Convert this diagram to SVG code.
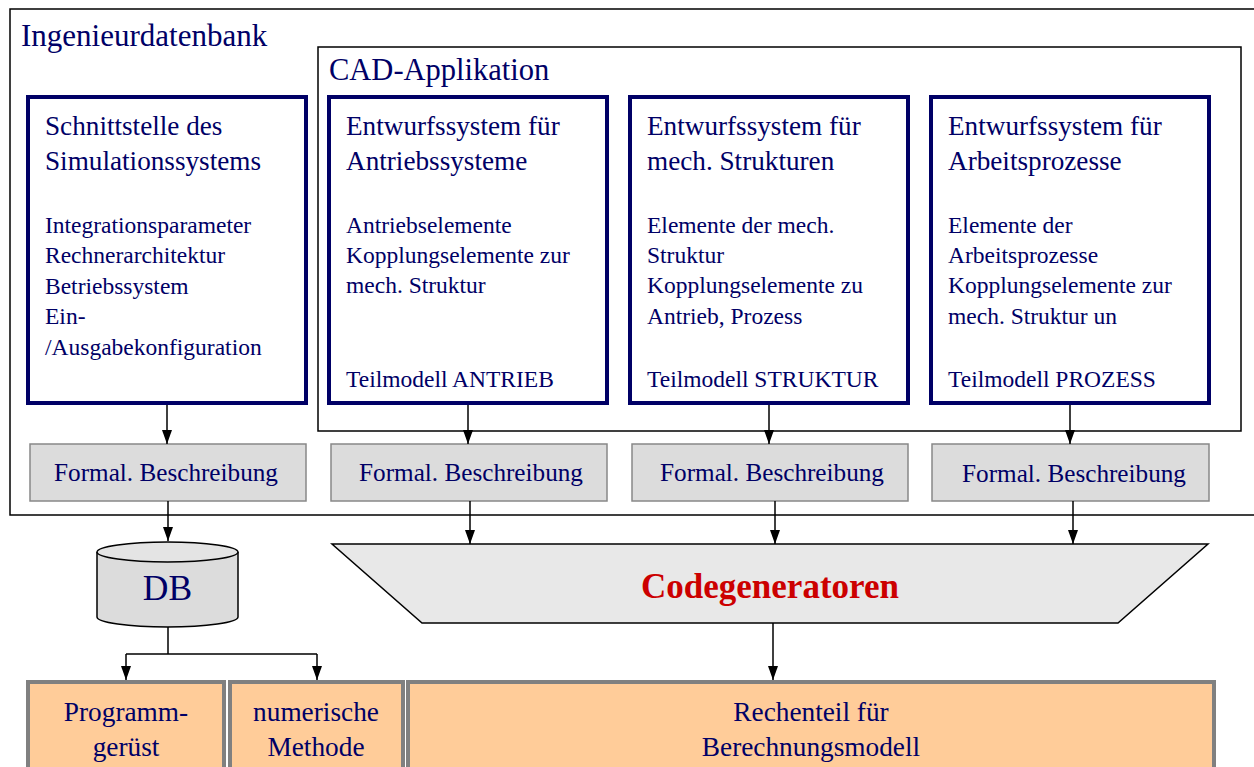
<svg xmlns="http://www.w3.org/2000/svg" width="1254" height="767" viewBox="0 0 1254 767">
  <defs>
    <marker id="arrow" markerWidth="14" markerHeight="10" refX="14" refY="5" orient="auto" markerUnits="userSpaceOnUse" viewBox="0 0 14 10">
      <path d="M0,0 L14,5 L0,10 Z" fill="#000"/>
    </marker>
    <style>
      text { font-family: "Liberation Serif", "Times New Roman", serif; fill: #000066; }
      .frame { fill: none; stroke: #000; stroke-width: 1.5; }
      .sys { fill: #fff; stroke: #000066; stroke-width: 4; }
      .formal { fill: #dcdcdc; stroke: #888; stroke-width: 1.5; }
      .out { fill: #ffcc99; stroke: #808080; stroke-width: 4; }
      .title { font-size: 27.2px; }
      .body { font-size: 23.5px; }
      .flabel { font-size: 25.2px; text-anchor: middle; }
      .olabel { font-size: 27.3px; text-anchor: middle; }
      .conn { fill: none; stroke: #000; stroke-width: 1.5; }
      .arr { marker-end: url(#arrow); }
    </style>
  </defs>

  <rect width="1254" height="767" fill="#fff"/>

  <!-- Ingenieurdatenbank frame -->
  <g id="ingenieurdatenbank">
    <rect class="frame" x="10" y="9" width="1246" height="506"/>
    <text x="21" y="46" font-size="31">Ingenieurdatenbank</text>
  </g>

  <!-- CAD-Applikation frame -->
  <g id="cad-applikation">
    <rect class="frame" x="318" y="47" width="923" height="384"/>
    <text x="329" y="80" font-size="30.5">CAD-Applikation</text>
  </g>

  <!-- Subsystem boxes -->
  <g id="schnittstelle">
    <rect class="sys" x="28" y="97" width="278" height="306"/>
    <text class="title" x="45" y="135">Schnittstelle des</text>
    <text class="title" x="45" y="170">Simulationssystems</text>
    <text class="body" x="45" y="233">Integrationsparameter</text>
    <text class="body" x="45" y="263">Rechnerarchitektur</text>
    <text class="body" x="45" y="294">Betriebssystem</text>
    <text class="body" x="45" y="324">Ein-</text>
    <text class="body" x="45" y="355">/Ausgabekonfiguration</text>
  </g>

  <g id="antrieb">
    <rect class="sys" x="329" y="97" width="278" height="306"/>
    <text class="title" x="346" y="135">Entwurfssystem für</text>
    <text class="title" x="346" y="170">Antriebssysteme</text>
    <text class="body" x="346" y="233">Antriebselemente</text>
    <text class="body" x="346" y="263">Kopplungselemente zur</text>
    <text class="body" x="346" y="293">mech. Struktur</text>
    <text class="body" x="346" y="387">Teilmodell ANTRIEB</text>
  </g>

  <g id="struktur">
    <rect class="sys" x="630" y="97" width="278" height="306"/>
    <text class="title" x="647" y="135">Entwurfssystem für</text>
    <text class="title" x="647" y="170">mech. Strukturen</text>
    <text class="body" x="647" y="233">Elemente der mech.</text>
    <text class="body" x="647" y="263">Struktur</text>
    <text class="body" x="647" y="293">Kopplungselemente zu</text>
    <text class="body" x="647" y="324">Antrieb, Prozess</text>
    <text class="body" x="647" y="387">Teilmodell STRUKTUR</text>
  </g>

  <g id="prozess">
    <rect class="sys" x="931" y="97" width="278" height="306"/>
    <text class="title" x="948" y="135">Entwurfssystem für</text>
    <text class="title" x="948" y="170">Arbeitsprozesse</text>
    <text class="body" x="948" y="233">Elemente der</text>
    <text class="body" x="948" y="263">Arbeitsprozesse</text>
    <text class="body" x="948" y="293">Kopplungselemente zur</text>
    <text class="body" x="948" y="324">mech. Struktur un</text>
    <text class="body" x="948" y="387">Teilmodell PROZESS</text>
  </g>

  <!-- Formal descriptions -->
  <g id="formal-1">
    <rect class="formal" x="30" y="444" width="276" height="57"/>
    <text class="flabel" x="166" y="481">Formal. Beschreibung</text>
  </g>
  <g id="formal-2">
    <rect class="formal" x="331" y="444" width="276" height="57"/>
    <text class="flabel" x="471" y="481">Formal. Beschreibung</text>
  </g>
  <g id="formal-3">
    <rect class="formal" x="632" y="444" width="276" height="57"/>
    <text class="flabel" x="772" y="481">Formal. Beschreibung</text>
  </g>
  <g id="formal-4">
    <rect class="formal" x="932" y="444" width="277" height="57"/>
    <text class="flabel" x="1074" y="482">Formal. Beschreibung</text>
  </g>

  <!-- Database -->
  <g id="db">
    <path d="M97,552 L97,617 A70.5,10 0 0 0 238,617 L238,552" fill="#dcdcdc" stroke="#000" stroke-width="1.5"/>
    <ellipse cx="167.5" cy="552" rx="70.5" ry="10" fill="#e4e4e4" stroke="#000" stroke-width="1.5"/>
    <text x="167.5" y="600" font-size="35.5" text-anchor="middle">DB</text>
  </g>

  <!-- Code generators -->
  <g id="codegeneratoren">
    <polygon points="332,544 1208,544 1118,623 422,623" fill="#e8e8e8" stroke="#000" stroke-width="1.5"/>
    <text x="770" y="598" font-size="35" font-weight="bold" text-anchor="middle" style="fill:#cc0000">Codegeneratoren</text>
  </g>

  <!-- Output components -->
  <g id="programmgeruest">
    <rect class="out" x="28" y="682" width="196" height="100"/>
    <text class="olabel" x="126" y="721">Programm-</text>
    <text class="olabel" x="126" y="756">gerüst</text>
  </g>
  <g id="numerische-methode">
    <rect class="out" x="230" y="682" width="173" height="100"/>
    <text class="olabel" x="316" y="721">numerische</text>
    <text class="olabel" x="316" y="756">Methode</text>
  </g>
  <g id="rechenteil">
    <rect class="out" x="408" y="682" width="806" height="100"/>
    <text class="olabel" x="811" y="721">Rechenteil für</text>
    <text class="olabel" x="811" y="756">Berechnungsmodell</text>
  </g>

  <!-- Connectors -->
  <g id="connectors">
    <line class="conn arr" x1="167" y1="405" x2="167" y2="444"/>
    <line class="conn arr" x1="468" y1="405" x2="468" y2="444"/>
    <line class="conn arr" x1="769" y1="405" x2="769" y2="444"/>
    <line class="conn arr" x1="1070" y1="405" x2="1070" y2="444"/>

    <line class="conn arr" x1="168" y1="501" x2="168" y2="541"/>
    <line class="conn arr" x1="470" y1="501" x2="470" y2="544"/>
    <line class="conn arr" x1="775" y1="501" x2="775" y2="544"/>
    <line class="conn arr" x1="1073" y1="501" x2="1073" y2="544"/>

    <path class="conn" d="M168,627 L168,654 M126,654 L317,654"/>
    <line class="conn arr" x1="126" y1="654" x2="126" y2="680"/>
    <line class="conn arr" x1="317" y1="654" x2="317" y2="680"/>

    <line class="conn arr" x1="773" y1="623" x2="773" y2="680"/>
  </g>
</svg>
